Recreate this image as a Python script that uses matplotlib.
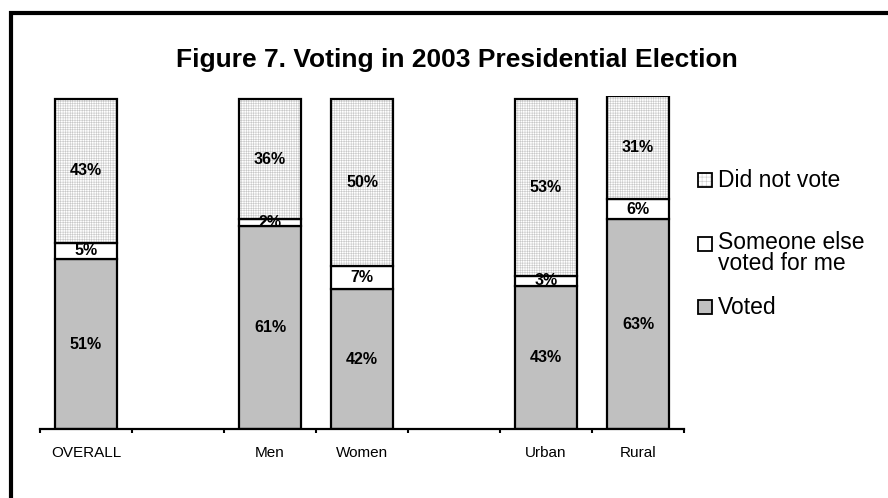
import numpy as np
import matplotlib
matplotlib.use('Agg')
from matplotlib import pyplot as plt
from matplotlib.patches import Rectangle

plt.rcParams['font.family'] = ['Liberation Sans', 'DejaVu Sans']
plt.rcParams['hatch.linewidth'] = 0.4

# empty strings are the gaps between groups
categories = ['OVERALL', '', 'Men', 'Women', '', 'Urban', 'Rural']
voted = [51, np.nan, 61, 42, np.nan, 43, 63]
someone_else = [5, np.nan, 2, 7, np.nan, 3, 6]
did_not_vote = [43, np.nan, 36, 50, np.nan, 53, 31]

series_labels = ['Did not vote', 'Someone else\nvoted for me', 'Voted']
title = 'Figure 7. Voting in 2003 Presidential Election'

W, H = 888, 498
fig = plt.figure(figsize=(W / 100, H / 100), dpi=100)
ax = fig.add_axes([40 / W, 1 - 429 / H, 644 / W, 333 / H])

x = np.arange(len(categories))
keep = np.array([c != '' for c in categories])
xs = x[keep]
v1 = np.array(voted)[keep]
v2 = np.array(someone_else)[keep]
v3 = np.array(did_not_vote)[keep]
width = 0.67
edge_lw = 1.6

ax.bar(xs, v1, width, color='#c0c0c0', edgecolor='black', linewidth=edge_lw)
ax.bar(xs, v2, width, bottom=v1, color='white', edgecolor='black', linewidth=edge_lw)
# grid texture of the top segment, then its outline on top
ax.bar(xs, v3, width, bottom=v1 + v2, color='white', edgecolor='#c8c8c8',
       linewidth=0, hatch='+' * 7)
ax.bar(xs, v3, width, bottom=v1 + v2, color='none', edgecolor='black', linewidth=edge_lw)

for xi, a, b, c in zip(xs, v1, v2, v3):
    for bottom, val in [(0, a), (a, b), (a + b, c)]:
        ax.text(xi, bottom + val / 2, '%d%%' % val, ha='center', va='center',
                fontsize=11.5, fontweight='bold')

ax.set_xlim(-0.5, len(categories) - 0.5)
ax.set_ylim(0, 100)
ax.set_xticks(np.arange(len(categories) + 1) - 0.5)
ax.set_xticklabels([])
ax.set_xticks(x, categories, minor=True)
ax.tick_params(axis='x', which='major', direction='out', length=3, width=1.5)
ax.tick_params(axis='x', which='minor', length=0, pad=12, labelsize=11)
ax.set_yticks([])
for s in ['left', 'top', 'right']:
    ax.spines[s].set_visible(False)
ax.spines['bottom'].set_linewidth(1.6)

fig.text(457 / W, 1 - 60 / H, title, ha='center', va='center',
         fontsize=19, fontweight='bold')

# legend drawn by hand to match the spacing of the original
legend_items = [
    (series_labels[0], 180, 'hatch'),
    (series_labels[1], 253, 'white'),
    (series_labels[2], 307, '#c0c0c0'),
]
for label, yc, style in legend_items:
    sq_y = yc if style != 'white' else 244
    if style == 'hatch':
        fig.patches.append(Rectangle((698 / W, 1 - (sq_y + 7) / H), 14 / W, 14 / H,
                                     transform=fig.transFigure, facecolor='white',
                                     edgecolor='#c8c8c8', linewidth=0, hatch='+' * 4))
        fig.patches.append(Rectangle((698 / W, 1 - (sq_y + 7) / H), 14 / W, 14 / H,
                                     transform=fig.transFigure, facecolor='none',
                                     edgecolor='black', linewidth=1.3))
    else:
        fig.patches.append(Rectangle((698 / W, 1 - (sq_y + 7) / H), 14 / W, 14 / H,
                                     transform=fig.transFigure, facecolor=style,
                                     edgecolor='black', linewidth=1.3))
    fig.text(718 / W, 1 - yc / H, label, ha='left', va='center', fontsize=16.5,
             linespacing=0.88)

# outer frame, only top and left edges fall inside the image
fig.patches.append(Rectangle((11 / W, -0.2), 1.2, 1.2 - 13 / H,
                             transform=fig.transFigure, facecolor='none',
                             edgecolor='black', linewidth=3))

fig.savefig('out.png', dpi=100)
